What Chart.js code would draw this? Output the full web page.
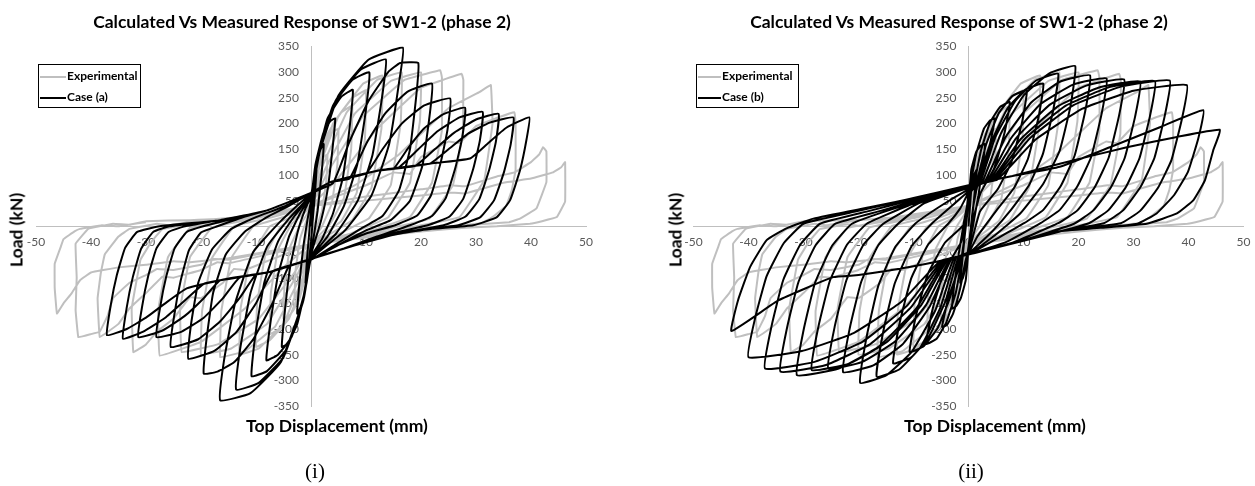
<!DOCTYPE html>
<html>
<head>
<meta charset="utf-8">
<script src="https://cdn.jsdelivr.net/npm/chart.js@4.4.0/dist/chart.umd.min.js"></script>
<style>
body { margin:0; background:#fff; width:1255px; height:486px; position:relative; overflow:hidden; font-family:Lato, sans-serif; }
canvas { position:absolute; top:0; }
.t { position:absolute; transform:translate(-50%,-50%); white-space:nowrap; font-weight:bold; color:#000; }
.title { font-size:17.5px; }
.axt { font-size:17.5px; }
.ylab { transform:translate(-50%,-50%) rotate(-90deg); }
.cap { font-family:"Liberation Serif", serif; font-size:21px; font-weight:normal; }
.legend { position:absolute; border:1px solid #000; width:101px; height:42px; font-size:12px; font-weight:bold; }
.legend .row { position:absolute; left:1px; height:14px; line-height:14px; white-space:nowrap; }
.legend .sw { display:inline-block; width:26px; height:2.5px; vertical-align:middle; margin-right:1px; }
</style>
</head>
<body>
<canvas id="left" width="627" height="486" style="left:0"></canvas>
<canvas id="right" width="628" height="486" style="left:627px"></canvas>

<div class="t title" style="left:302px;top:21px">Calculated Vs Measured Response of SW1-2 (phase 2)</div>
<div class="t title" style="left:959px;top:21px">Calculated Vs Measured Response of SW1-2 (phase 2)</div>
<div class="t axt ylab" style="left:16px;top:230px">Load (kN)</div>
<div class="t axt ylab" style="left:675px;top:230px">Load (kN)</div>
<div class="t axt" style="left:337px;top:425px">Top Displacement (mm)</div>
<div class="t axt" style="left:995px;top:425px">Top Displacement (mm)</div>
<div class="t cap" style="left:315px;top:471px">(i)</div>
<div class="t cap" style="left:971px;top:471px">(ii)</div>

<div class="legend" style="left:38px;top:64px">
  <div class="row" style="top:4px"><span class="sw" style="background:#bfbfbf"></span>Experimental</div>
  <div class="row" style="top:25px"><span class="sw" style="background:#000"></span>Case (a)</div>
</div>
<div class="legend" style="left:696px;top:64px">
  <div class="row" style="top:4px"><span class="sw" style="background:#bfbfbf;width:23px"></span>Experimental</div>
  <div class="row" style="top:25px"><span class="sw" style="background:#000;width:23px"></span>Case (b)</div>
</div>

<script>
// axis tick labels
const dispTicks = [-50, -40, -30, -20, -10, 0, 10, 20, 30, 40, 50];
const loadTicks = [-350, -300, -250, -200, -150, -100, -50, 50, 100, 150, 200, 250, 300, 350];

// measured response (same test in both panels), [displacement mm, load kN]
const experimental = [
  [0,0],[0.5,50],[1.0,80],[1.5,90],[1.3,50],[0.8,10],[0,-25],
  [-0.5,-55],[-1.0,-82],[-1.5,-90],[-1.3,-50],[-0.8,-10],[0,25],
  [0.6,80],[1.6,120],[2.4,136],[3,140],[2.8,90],[2,30],[0.8,-10],[0,-30],
  [-0.6,-75],[-1.6,-115],[-2.4,-133],[-3,-140],[-2.8,-85],[-2,-25],[-0.8,12],[0,32],
  [0.8,95],[2.2,155],[3.8,183],[5,190],[4.8,120],[3.8,45],[2,0],[0,-33],
  [-0.8,-90],[-2.2,-145],[-3.8,-172],[-5,-180],[-4.8,-110],[-3.8,-40],[-2,2],[0,36],
  [1,105],[3,180],[5.5,222],[7.5,235],[7.3,150],[6,55],[3.5,5],[0,-35],
  [-1,-95],[-3,-160],[-5.5,-198],[-7.5,-210],[-7.3,-130],[-6,-45],[-3.5,5],[0,38],
  [1.2,110],[4,200],[7.5,250],[10,265],[9.8,170],[8.3,65],[5.5,10],[2.5,-15],[0,-35],
  [-1.2,-100],[-4,-180],[-7.5,-222],[-10,-235],[-9.8,-150],[-8.3,-55],[-5.5,0],[-2.5,18],[0,40],
  [1.5,115],[5,215],[9.5,278],[13,294],[12.8,190],[11,75],[7.5,12],[3.5,-15],[0,-35],
  [-1.5,-100],[-5,-190],[-9.5,-238],[-13,-250],[-12.8,-160],[-11,-60],[-7.5,0],[-3.5,18],[0,40],
  [2,115],[6.5,222],[12,285],[16.5,300],[16.3,200],[14.5,80],[10.5,15],[5,-15],[0,-35],
  [-2,-100],[-6.5,-195],[-12,-243],[-16.5,-255],[-16.3,-165],[-14.5,-62],[-10.5,0],[-5,18],[0,40],
  [2.5,110],[8,220],[14.5,283],[20,300],[19.8,205],[18,85],[14,17],[7,-15],[0,-35],
  [-2.5,-95],[-8,-190],[-14.5,-238],[-20,-250],[-19.8,-165],[-18,-62],[-14,0],[-7,18],[0,40],
  [3,105],[9.5,215],[17,285],[23.5,304],[23.8,290],[23.8,187],[22,85],[18,18],[10,-12],[0,-35],
  [-3,-90],[-9.5,-180],[-17,-230],[-23.5,-245],[-23.8,-160],[-22,-60],[-18,-2],[-10,16],[0,40],
  [5,95],[12,190],[20,270],[27.4,297],[27.7,285],[27.6,180],[25.8,80],[21.5,15],[12,-10],[0,-35],
  [-5,-80],[-12,-160],[-20,-225],[-27.5,-252],[-27.8,-165],[-26,-60],[-22,-3],[-12,15],[0,40],
  [8,80],[16,140],[25,230],[30.7,262],[32.7,275],[33,200],[31.5,90],[27,18],[15,-8],[0,-35],
  [-8,-68],[-12,-85],[-14,-83],[-16,-110],[-20,-140],[-22,-138],[-25,-180],[-28,-205],[-30,-230],[-32.3,-245],
  [-32.6,-160],[-31,-65],[-29,-30],[-27,-5],[-22,4],[-20,1],[-15,14],[-8,22],[0,40],
  [10,80],[15,105],[18,102],[20,135],[25,165],[27,162],[30,195],[34,212],[37,222],[37.2,200],[37.2,110],
  [36.5,70],[35.5,40],[33,18],[31,6],[25,0],[18,-6],[8,-18],[0,-35],
  [-10,-60],[-15,-72],[-17,-70],[-20,-85],[-25,-100],[-27,-98],[-30,-130],[-33,-160],[-35,-190],[-38.4,-216],
  [-38.8,-140],[-38.2,-90],[-37.5,-55],[-35,-20],[-33,-5],[-28,5],[-26,2],[-20,12],[-10,20],[0,40],
  [10,58],[15,65],[20,72],[25.3,80],[28,78],[33.8,97],[37,105],[40,125],[41.5,140],[42.2,154],[42.8,146],
  [42.8,86],[41,35],[38,15],[36,8],[28,2],[20,-5],[10,-18],[0,-35],
  [-10,-55],[-15,-65],[-18,-63],[-20,-75],[-25,-85],[-28,-83],[-30,-95],[-33,-110],[-36,-140],[-37,-175],
  [-38.4,-205],[-40,-210],[-42.3,-216],[-42.8,-163],[-42.6,-100],[-42.8,-34],[-40.5,-5],[-36,5],[-33,3],
  [-30,10],[-22,12],[-15,15],[0,40],
  [10,50],[20,60],[25,66],[28,64],[35,85],[40,93],[44,105],[45.5,115],[46.2,125],[46.2,48],[44.7,18],
  [42,10],[39.8,5],[33.8,0],[28,-3],[20,-10],[10,-22],[0,-35],
  [-15,-62],[-22,-70],[-25,-68],[-30,-75],[-35,-80],[-40,-90],[-42,-105],[-43.5,-130],[-45,-150],[-46.2,-170],
  [-46.6,-120],[-46.6,-73],[-45.5,-40],[-45,-25],[-43,-10],[-42,-5],[-38,2],[-35,0],[-30,8]
];

// calculated response, case (a)
const caseA = [
  [0,0],[0.4,60],[0.8,100],[1.0,110],[0.7,60],[0.3,10],[0,-30],
  [-0.4,-70],[-0.8,-100],[-1.0,-110],[-0.7,-60],[-0.3,-10],[0,30],
  [0.6,100],[1.5,145],[2.3,160],[1.9,100],[1.2,30],[0.5,-20],[0,-50],
  [-0.8,-110],[-1.8,-155],[-2.5,-170],[-2.1,-110],[-1.4,-40],[-0.6,15],[0,50],
  [0.8,120],[2.2,180],[3.5,205],[4.4,210],[3.9,150],[3.0,70],[1.8,10],[0,-55],
  [-1,-120],[-2.5,-190],[-4.2,-228],[-5.3,-235],[-4.8,-170],[-3.8,-80],[-2.4,-10],[-1,35],[0,58],
  [1,125],[3,210],[5.5,252],[7.6,266],[7.0,190],[5.8,95],[4,25],[2,-25],[0,-60],
  [-1.2,-130],[-3.5,-215],[-6,-250],[-8.1,-261],[-7.4,-190],[-6,-95],[-4,-20],[-2,25],[0,60],
  [1.2,135],[4,235],[7.5,285],[10.6,300],[9.9,220],[8.4,120],[6,40],[3,-20],[0,-62],
  [-1.3,-140],[-4.5,-240],[-8,-282],[-10.8,-292],[-10.1,-210],[-8.5,-110],[-6,-30],[-3,20],[0,62],
  [1.4,140],[4.5,245],[9,305],[13.6,325],[12.9,250],[11.2,140],[8.5,50],[4.5,-15],[0,-63],
  [-1.4,-145],[-5,-255],[-9.5,-305],[-13.6,-318],[-12.9,-240],[-11,-130],[-8,-40],[-4,15],[0,63],
  [1.6,145],[5,255],[10.5,325],[16.7,348],[16.0,280],[14.2,160],[11,60],[6,-10],[0,-64],
  [-1.6,-150],[-5.5,-265],[-11,-325],[-16.5,-339],[-15.8,-260],[-13.8,-150],[-10.5,-50],[-5.5,10],[0,64],
  [4,84],[7,165],[10.5,245],[14,300],[16.2,318],[19.5,318],[19.1,250],[18,150],[16,70],[13,20],[9,-5],[4.5,-35],[0,-65],
  [-4,-78],[-7,-150],[-10.5,-220],[-14,-265],[-17,-283],[-19.5,-287],[-19,-220],[-17.8,-130],[-15.5,-55],[-12,-10],[-8,18],[-4,40],[0,65],
  [3.5,86],[7,93],[10,160],[13.5,220],[17.5,262],[22,278],[21.5,210],[20.3,120],[18,50],[14.5,12],[10,-8],[5,-36],[0,-65],
  [-3.5,-75],[-7,-88],[-10,-150],[-13.5,-205],[-17.5,-242],[-22.3,-258],[-21.8,-190],[-20.5,-110],[-18,-45],[-14.5,-5],[-10,18],[-5,38],[0,65],
  [3.5,86],[10,103],[13,150],[16.5,200],[20.5,235],[25.3,249],[24.8,187],[23.6,125],[21.8,60],[19.3,21],[15.3,2],[10,-14],[5,-36],[0,-64],
  [-7.5,-89],[-10,-94],[-13,-140],[-16.5,-185],[-20.5,-220],[-25.5,-235],[-24.8,-169],[-23.7,-106],[-22.2,-47],[-20,-12],[-17,0],[-12,19],[-8,31],[0,65],
  [3.5,86],[12.5,109],[15,112],[17.5,150],[20.5,190],[24,218],[28,231],[27.5,173],[26.3,116],[24.5,55],[22,20],[18,2],[12,-20],[6,-43],[0,-64],
  [-7.5,-89],[-13,-100],[-16,-140],[-19.5,-178],[-23.5,-205],[-28.1,-216],[-27.4,-156],[-26.3,-97],[-24.8,-43],[-22.6,-11],[-19.6,0],[-14,15],[-8,31],[0,65],
  [3.5,86],[12.5,109],[16,115],[19.5,150],[23,185],[27,212],[31.2,223],[30.7,167],[29.5,112],[27.7,54],[25.2,19],[21.2,2],[14,-16],[7,-40],[0,-64],
  [-7.5,-89],[-16.5,-105],[-19.5,-140],[-23,-175],[-27,-203],[-31.4,-216],[-30.7,-156],[-29.6,-97],[-28.1,-43],[-25.9,-11],[-22.9,0],[-16.5,12],[-8,31],[0,65],
  [3.5,86],[12.5,109],[19,118],[22.5,150],[26,182],[30,208],[34.1,219],[33.6,164],[32.4,110],[30.6,53],[28.1,19],[24.1,2],[16,-14],[8,-37],[0,-63],
  [-7.5,-89],[-16.5,-105],[-19.5,-112],[-23,-145],[-26.5,-178],[-30.5,-205],[-34.2,-219],[-33.5,-158],[-32.4,-99],[-30.9,-44],[-28.7,-11],[-25.7,0],[-16.5,12],[-8,31],[0,65],
  [3.5,86],[12.5,109],[21.6,122],[25,150],[28.5,180],[32.5,202],[36.8,212],[36.3,159],[35.1,106],[33.3,51],[30.8,18],[26.8,2],[20,-7],[14,-19],[7,-40],[0,-63],
  [-7.5,-89],[-16.5,-105],[-22.6,-121],[-26.5,-150],[-30,-178],[-33.5,-200],[-37.1,-212],[-36.4,-153],[-35.3,-95],[-33.8,-42],[-31.6,-11],[-27.5,0],[-16.5,12],[-8,31],[0,65],
  [3.5,86],[12.5,109],[21.6,122],[28.9,132],[32,160],[35.5,192],[39.7,212],[39.2,170],[38,109],[36.2,51],[33.8,18],[29.5,2],[22,-5],[16,-14]
];

// calculated response, case (b)
const caseB = [
  [0,0],[0.5,70],[1.0,100],[1.5,110],[1.2,75],[0.7,20],[0,-40],
  [-0.5,-75],[-1.0,-100],[-1.5,-110],[-1.2,-75],[-0.7,-20],[0,45],
  [0.5,110],[1.4,145],[2.2,157],[3,160],[2.6,120],[1.8,60],[0.8,0],[0,-45],
  [-0.5,-105],[-1.4,-140],[-2.2,-155],[-3,-160],[-2.6,-115],[-1.8,-55],[-0.8,10],[0,55],
  [0.6,95],[1.5,145],[2.8,190],[3.9,206],[4.8,210],[3.9,160],[2.0,99],[0.8,35],[0,-45],
  [-0.6,-70],[-1.5,-120],[-2.8,-170],[-3.9,-192],[-4.8,-196],[-3.6,-137],[-1.5,-74],[-0.6,-10],[0,55],
  [1,82],[2.3,149],[3.9,202],[5.7,232],[7.5,242],[6.6,184],[4.7,114],[2.2,65],[1,20],[0,-50],
  [-1,-57],[-2.3,-129],[-4,-186],[-5.8,-219],[-7.7,-229],[-6.5,-160],[-4.4,-87],[-1.3,-30],[-0.4,20],[0,62],
  [1.4,83],[3.2,159],[5.5,220],[8,254],[10.6,265],[9.7,201],[7.8,125],[5.3,72],[2.1,29],[0,-50],
  [-1.4,-58],[-3.3,-137],[-5.6,-198],[-8.1,-233],[-10.7,-245],[-9.5,-172],[-7.4,-93],[-4.3,-32],[-0.7,5],[0,62],
  [1.8,84],[4.2,165],[7.1,230],[10.3,266],[13.6,278],[12.7,211],[10.8,131],[8.3,75],[5.1,31],[1.6,-20],[0,-52],
  [-1.8,-59],[-4.2,-146],[-7.2,-215],[-10.4,-255],[-13.7,-267],[-12.5,-187],[-10.4,-101],[-7.3,-35],[-3.7,5],[-1.5,35],[0,65],
  [2.1,85],[4.9,174],[8.5,244],[12.3,284],[16.3,297],[15.4,226],[13.5,140],[11,80],[7.8,33],[4.3,-10],[0,-53],
  [-2.2,-60],[-5.1,-158],[-8.7,-235],[-12.6,-279],[-16.7,-293],[-15.5,-205],[-13.4,-111],[-10.3,-38],[-6.7,5],[-3,40],[0,68],
  [2.5,86],[5.9,181],[10.1,256],[14.7,298],[19.4,312],[18.5,232],[16.6,148],[13.6,83],[9.4,25],[4.5,-20],[0,-55],
  [-2.6,-61],[-6.0,-163],[-10.3,-244],[-14.9,-290],[-19.7,-305],[-18.5,-214],[-16.4,-116],[-13.3,-40],[-9.7,5],[-5,40],[0,72],
  [2.9,86],[6.7,173],[11.5,242],[16.7,282],[22.1,294],[21.2,223],[19.3,138],[16.8,79],[13.6,32],[10.1,6],[5,-25],[0,-55],
  [-3,-62],[-7.0,-155],[-11.9,-229],[-17.3,-271],[-22.8,-284],[-21.6,-199],[-19.5,-108],[-16.4,-37],[-12.8,5],[-8,45],[0,75],
  [3.3,87],[7.7,171],[13.1,238],[19,276],[25.1,288],[24.2,219],[22.3,135],[19.8,78],[16.6,32],[13.1,6],[7,-30],[0,-55],
  [-3.3,-63],[-7.7,-153],[-13.3,-224],[-19.3,-264],[-25.5,-277],[-24.3,-194],[-22.2,-105],[-19.1,-36],[-15.5,5],[-9,45],[0,77],
  [3.7,88],[8.6,171],[14.8,237],[21.4,274],[28.3,286],[27.4,217],[25.5,134],[23,77],[19.8,31],[16.3,6],[8,-32],[0,-55],
  [-3.7,-64],[-8.7,-155],[-14.9,-226],[-21.6,-267],[-28.5,-280],[-27.3,-196],[-25.2,-106],[-22.1,-36],[-18.5,5],[-11,40],[0,78],
  [4.1,89],[9.5,170],[16.3,234],[23.6,270],[31.2,282],[30.3,214],[28.4,133],[25.9,76],[22.7,31],[19.2,5],[10,-27],[0,-55],
  [-4.1,-65],[-9.5,-160],[-16.3,-234],[-23.6,-277],[-31.2,-290],[-30,-203],[-27.9,-110],[-24.8,-38],[-21.2,5],[-14,33],[0,79],
  [4.4,90],[10.3,171],[17.7,235],[25.6,271],[33.9,283],[33,215],[31.1,133],[28.6,76],[25.4,31],[21.9,6],[12,-23],[0,-55],
  [-4.4,-66],[-10.4,-157],[-17.8,-229],[-25.9,-270],[-34.2,-283],[-33,-198],[-30.9,-108],[-27.8,-37],[-24.2,5],[-16,30],[0,80],
  [4.8,91],[11.2,172],[19.1,236],[27.7,272],[36.6,284],[35.7,216],[33.8,133],[31.3,77],[28.1,31],[24.6,6],[16.4,-10],[8,-32],[0,-55],
  [-4.8,-67],[-11.2,-155],[-19.3,-225],[-28,-264],[-37,-277],[-35.8,-194],[-33.7,-105],[-30.6,-36],[-27,5],[-18,30],[-9,55],[0,80],
  [5.2,91],[12.1,168],[20.7,229],[30,264],[39.7,275],[38.8,209],[36.9,129],[34.4,74],[31.2,30],[27.7,6],[16.4,-10],[8,-32],[0,-55],
  [-5.2,-68],[-12.2,-147],[-20.9,-208],[-30.3,-243],[-40,-255],[-38.8,-179],[-36.7,-97],[-33.6,-33],[-30,5],[-20,30],[-10,55],[0,80],
  [8,98],[16.6,116],[25.7,154],[34.8,193],[42.7,226],[41.8,172],[39.9,106],[37.4,61],[34.2,25],[30.7,5],[24,-3],[16.4,-10],[8,-32],[0,-55],
  [-10,-78],[-20,-95],[-24.6,-99],[-34.5,-144],[-43.1,-204],[-41.9,-144],[-39.7,-79],[-36.7,-27],[-33.1,-4],[-28.2,15],[-18,37],[-9,57],[0,80],
  [8,98],[16.6,122],[28.8,154],[37.9,174],[45.7,188],[44.5,148],[43,90],[40.9,51],[37.9,25],[32.4,5],[24,-3]
];

// tick labels drawn under the curves, next to the crossing axes
const tickText = {
  id: 'tickText',
  beforeDatasetsDraw(chart) {
    const { ctx, scales: { x, y } } = chart;
    const x0 = x.getPixelForValue(0);
    const y0 = y.getPixelForValue(0);
    ctx.save();
    ctx.font = '12px Lato';
    ctx.fillStyle = '#595959';
    ctx.textBaseline = 'middle';
    ctx.textAlign = 'center';
    dispTicks.forEach(v => ctx.fillText(String(v), x.getPixelForValue(v), y0 + 16));
    ctx.textAlign = 'right';
    loadTicks.forEach(v => ctx.fillText(String(v), x0 - 12, y.getPixelForValue(v)));
    ctx.restore();
  }
};

const pts = arr => arr.map(p => ({ x: p[0], y: p[1] }));

function drawPanel(id, calc, calcLabel, pad) {
  new Chart(document.getElementById(id), {
    type: 'scatter',
    data: {
      datasets: [
        { label: 'Experimental', data: pts(experimental), showLine: true, borderColor: '#bfbfbf', borderWidth: 2, pointRadius: 0, tension: 0.05, order: 2 },
        { label: calcLabel, data: pts(calc), showLine: true, borderColor: '#000', borderWidth: 2, pointRadius: 0, tension: 0.12, order: 1 }
      ]
    },
    options: {
      responsive: false,
      animation: false,
      devicePixelRatio: 1,
      layout: { padding: pad },
      plugins: { legend: { display: false }, tooltip: { enabled: false } },
      scales: {
        x: { type: 'linear', min: -50, max: 50, position: { y: 0 }, grid: { display: false }, border: { color: '#bfbfbf', width: 1 }, ticks: { display: false } },
        y: { type: 'linear', min: -350, max: 350, position: { x: 0 }, grid: { display: false }, border: { color: '#bfbfbf', width: 1 }, ticks: { display: false } }
      }
    },
    plugins: [tickText]
  });
}

drawPanel('left', caseA, 'Case (a)', { left: 36, right: 41, top: 46.6, bottom: 80 });
drawPanel('right', caseB, 'Case (b)', { left: 66.5, right: 11.5, top: 46.6, bottom: 80 });
</script>
</body>
</html>
